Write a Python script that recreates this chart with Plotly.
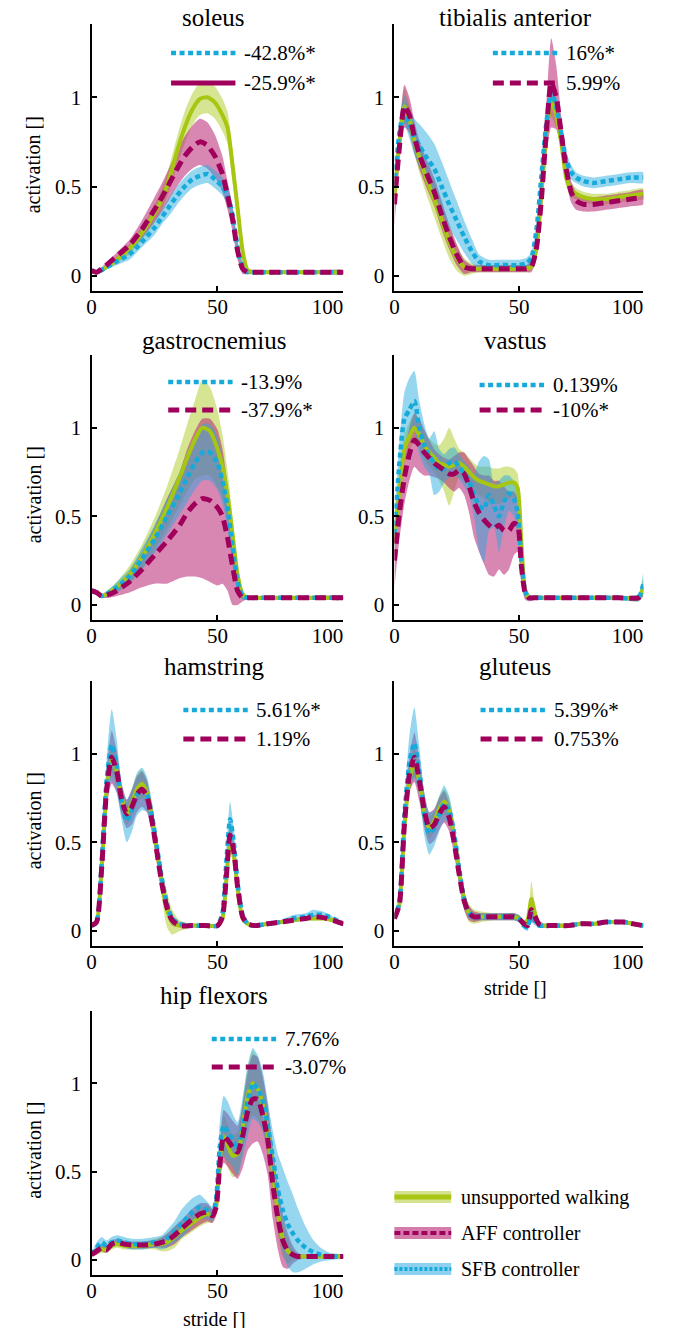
import plotly.graph_objects as go

W, H = 691, 1328

# ------------------------------------------------------------------ data
# soleus
soleus_x = [0, 2, 5, 10, 15, 20, 25, 28, 31, 34, 37, 40, 43, 46, 49, 52, 54, 56, 58, 60, 62, 65, 70, 80, 90, 100]
soleus_unsup = [.03, .02, .04, .09, .15, .24, .35, .43, .55, .70, .83, .93, .99, 1.0, .97, .90, .83, .62, .38, .14, .03, .02, .02, .02, .02, .02]
soleus_unsup_sd = [.01, .01, .01, .02, .03, .04, .05, .06, .07, .08, .09, .09, .09, .09, .09, .09, .09, .09, .08, .06, .02, .01, .01, .01, .01, .01]
soleus_aff = [.03, .02, .05, .11, .17, .26, .37, .44, .52, .60, .67, .72, .75, .73, .67, .57, .45, .32, .14, .04, .02, .02, .02, .02, .02, .02]
soleus_aff_sd = [.01, .01, .01, .02, .03, .05, .07, .08, .09, .10, .11, .12, .13, .13, .12, .10, .08, .07, .05, .03, .01, .01, .01, .01, .01, .01]
soleus_sfb = [.03, .02, .04, .08, .12, .19, .27, .33, .39, .45, .50, .54, .56, .57, .54, .50, .45, .34, .16, .05, .02, .02, .02, .02, .02, .02]
soleus_sfb_sd = [.01, .01, .01, .02, .03, .03, .04, .04, .05, .05, .05, .05, .05, .05, .05, .05, .05, .05, .04, .03, .01, .01, .01, .01, .01, .01]

# tibialis anterior
tib_x = [0, 2, 4, 6, 8, 10, 13, 16, 19, 22, 25, 28, 31, 34, 38, 42, 46, 50, 53, 55, 57, 59, 61, 63, 65, 67, 69, 71, 73, 76, 80, 85, 90, 95, 100]
tib_unsup = [.45, .75, .95, .88, .76, .66, .54, .43, .31, .19, .10, .05, .04, .04, .04, .04, .04, .04, .04, .05, .15, .45, .80, .97, .90, .75, .55, .48, .46, .44, .43, .43, .44, .45, .46]
tib_unsup_sd = [.06, .08, .10, .08, .08, .08, .09, .10, .10, .09, .07, .05, .03, .02, .02, .02, .02, .02, .02, .02, .05, .08, .08, .08, .07, .06, .05, .04, .03, .03, .03, .03, .03, .03, .03]
tib_aff = [.40, .72, .95, .90, .78, .68, .57, .47, .34, .22, .12, .05, .04, .04, .04, .04, .04, .04, .04, .05, .15, .42, .80, 1.08, 1.0, .80, .60, .47, .42, .40, .40, .41, .42, .43, .44]
tib_aff_sd = [.12, .10, .12, .10, .09, .08, .08, .08, .08, .07, .06, .04, .02, .02, .02, .02, .02, .02, .02, .03, .06, .10, .15, .25, .18, .10, .07, .06, .05, .04, .04, .04, .04, .04, .04]
tib_sfb = [.50, .80, .93, .85, .78, .73, .66, .60, .50, .40, .31, .22, .14, .08, .06, .06, .06, .06, .07, .10, .25, .55, .85, 1.03, .95, .80, .65, .58, .55, .53, .52, .53, .54, .55, .55]
tib_sfb_sd = [.05, .06, .08, .08, .10, .12, .14, .14, .14, .13, .11, .09, .07, .04, .03, .03, .03, .03, .03, .03, .05, .07, .07, .06, .05, .05, .04, .04, .03, .03, .03, .03, .03, .03, .03]

# gastrocnemius
gas_x = [0, 2, 4, 7, 10, 15, 20, 25, 30, 35, 38, 41, 44, 47, 50, 52, 54, 56, 58, 60, 62, 65, 70, 80, 90, 100]
gas_unsup = [.08, .07, .05, .07, .10, .17, .27, .40, .55, .72, .83, .93, 1.0, .98, .88, .78, .62, .40, .17, .06, .04, .04, .04, .04, .04, .04]
gas_unsup_sd = [.01, .01, .01, .02, .03, .05, .07, .09, .12, .16, .19, .22, .27, .25, .22, .18, .14, .10, .06, .03, .01, .01, .01, .01, .01, .01]
gas_aff = [.08, .07, .05, .06, .08, .13, .20, .28, .36, .45, .52, .57, .60, .59, .55, .50, .38, .22, .08, .04, .04, .04, .04, .04, .04, .04]
gas_aff_sd = [.01, .01, .01, .02, .03, .06, .10, .16, .24, .30, .36, .41, .45, .46, .44, .38, .30, .22, .08, .02, .01, .01, .01, .01, .01, .01]
gas_sfb = [.08, .07, .05, .07, .10, .16, .26, .37, .50, .63, .72, .80, .86, .86, .80, .70, .55, .33, .13, .05, .04, .04, .04, .04, .04, .04]
gas_sfb_sd = [.01, .01, .01, .02, .03, .04, .06, .08, .10, .12, .14, .15, .16, .16, .15, .13, .11, .08, .05, .02, .01, .01, .01, .01, .01, .01]

# vastus
vas_x = [0, 2, 4, 6, 8, 10, 12, 14, 16, 18, 20, 22, 24, 26, 28, 30, 32, 34, 36, 38, 40, 42, 44, 46, 48, 49.5, 51, 52.5, 54, 56, 60, 70, 80, 90, 98, 100]
vas_unsup = [.35, .65, .88, .95, 1.0, .96, .90, .86, .83, .80, .79, .78, .79, .80, .78, .75, .72, .70, .69, .68, .67, .67, .68, .69, .69, .66, .35, .08, .04, .04, .04, .04, .04, .04, .04, .10]
vas_unsup_sd = [.08, .08, .08, .08, .08, .08, .08, .08, .08, .10, .15, .22, .15, .08, .08, .08, .08, .08, .09, .10, .10, .10, .10, .09, .08, .08, .08, .03, .01, .01, .01, .01, .01, .01, .02, .05]
vas_aff = [.25, .52, .72, .85, .93, .90, .86, .83, .80, .78, .76, .74, .74, .76, .74, .67, .58, .52, .48, .45, .43, .45, .42, .42, .46, .45, .22, .07, .04, .04, .04, .04, .04, .04, .04, .07]
vas_aff_sd = [.15, .15, .15, .15, .15, .15, .13, .10, .08, .07, .07, .08, .10, .10, .12, .15, .20, .22, .25, .28, .27, .25, .25, .22, .18, .15, .10, .04, .02, .01, .01, .01, .01, .01, .01, .02]
vas_sfb = [.40, .80, 1.05, 1.10, 1.15, 1.0, .90, .84, .80, .76, .77, .80, .81, .78, .74, .70, .62, .56, .54, .62, .56, .50, .58, .63, .60, .52, .25, .08, .04, .04, .04, .04, .04, .04, .04, .12]
vas_sfb_sd = [.10, .12, .15, .18, .17, .15, .12, .10, .18, .12, .08, .08, .08, .07, .07, .08, .12, .25, .30, .20, .12, .20, .15, .10, .10, .12, .10, .04, .01, .01, .01, .01, .01, .01, .02, .06]

# hamstring
ham_x = [0, 2, 4, 6, 8, 10, 12, 14, 16, 18, 20, 22, 24, 26, 28, 30, 32, 35, 40, 45, 50, 52, 53.5, 55, 56.5, 58, 60, 62, 65, 70, 75, 80, 85, 88, 92, 96, 100]
ham_unsup = [.03, .05, .35, .80, .97, .90, .75, .66, .72, .80, .83, .78, .64, .45, .26, .12, .05, .03, .03, .03, .03, .07, .28, .50, .43, .24, .07, .04, .03, .04, .05, .06, .07, .07, .07, .06, .04]
ham_unsup_sd = [.01, .02, .04, .07, .08, .08, .06, .06, .07, .08, .08, .07, .07, .07, .08, .10, .07, .03, .01, .01, .01, .02, .05, .07, .05, .04, .02, .01, .01, .01, .01, .01, .01, .01, .01, .01, .01]
ham_aff = [.03, .05, .35, .80, .98, .90, .74, .66, .70, .77, .80, .76, .62, .44, .26, .13, .06, .03, .03, .03, .03, .08, .30, .54, .45, .25, .08, .04, .03, .04, .05, .06, .07, .08, .075, .06, .04]
ham_aff_sd = [.01, .02, .05, .10, .15, .12, .09, .08, .10, .10, .10, .09, .07, .06, .05, .04, .03, .01, .01, .01, .01, .02, .06, .08, .06, .04, .02, .01, .01, .01, .01, .01, .01, .01, .01, .01, .01]
ham_sfb = [.03, .05, .38, .85, 1.05, .93, .72, .62, .68, .77, .80, .77, .65, .47, .29, .15, .07, .04, .03, .03, .03, .10, .38, .63, .50, .27, .09, .04, .03, .04, .05, .07, .08, .09, .09, .07, .04]
ham_sfb_sd = [.01, .02, .06, .12, .20, .15, .10, .12, .12, .12, .12, .10, .08, .06, .05, .03, .02, .01, .01, .01, .01, .02, .08, .10, .08, .05, .02, .01, .01, .01, .01, .02, .02, .03, .02, .01, .01]

# gluteus
glu_x = [0, 2, 4, 6, 8, 10, 12, 14, 16, 18, 20, 22, 24, 26, 28, 30, 32, 35, 40, 45, 48, 50, 52, 53.5, 55, 56.5, 58, 60, 62, 65, 70, 75, 80, 85, 88, 92, 96, 100]
glu_unsup = [.07, .15, .58, .85, .95, .84, .66, .58, .62, .69, .73, .68, .53, .34, .18, .10, .08, .08, .08, .08, .08, .07, .04, .06, .18, .10, .04, .03, .03, .03, .03, .04, .04, .05, .05, .05, .04, .03]
glu_unsup_sd = [.01, .02, .05, .07, .08, .07, .06, .06, .06, .07, .07, .07, .07, .07, .06, .05, .04, .03, .02, .02, .02, .02, .02, .02, .10, .04, .02, .01, .01, .01, .01, .01, .01, .01, .01, .01, .01, .01]
glu_aff = [.07, .15, .60, .88, .98, .85, .68, .58, .60, .66, .70, .64, .50, .32, .17, .10, .08, .08, .08, .08, .08, .07, .04, .03, .12, .08, .04, .03, .03, .03, .03, .04, .04, .05, .05, .05, .04, .03]
glu_aff_sd = [.01, .02, .06, .10, .14, .12, .10, .09, .09, .09, .09, .08, .07, .06, .05, .04, .03, .02, .02, .02, .02, .02, .02, .02, .07, .04, .02, .01, .01, .01, .01, .01, .01, .01, .01, .01, .01, .01]
glu_sfb = [.07, .16, .65, .95, 1.06, .90, .66, .55, .58, .66, .72, .68, .55, .35, .18, .10, .08, .08, .08, .08, .08, .07, .03, .02, .10, .06, .03, .03, .03, .03, .03, .04, .04, .05, .05, .05, .04, .03]
glu_sfb_sd = [.01, .02, .08, .15, .20, .14, .12, .12, .10, .10, .10, .08, .07, .06, .04, .03, .02, .02, .02, .02, .02, .02, .02, .02, .05, .03, .01, .01, .01, .01, .01, .01, .01, .01, .01, .01, .01, .01]

# hip flexors
hip_x = [0, 2, 4, 6, 8, 10, 13, 16, 20, 25, 28, 30, 33, 36, 40, 43, 46, 48, 49.5, 51, 52.5, 54, 56, 58, 60, 62, 64, 66, 68, 70, 72, 74, 76, 78, 80, 82, 85, 88, 91, 95, 100]
hip_unsup = [.03, .05, .06, .06, .08, .09, .08, .08, .08, .09, .09, .10, .13, .17, .21, .24, .26, .25, .30, .58, .70, .65, .59, .60, .75, .93, 1.0, .97, .88, .72, .50, .27, .12, .05, .03, .02, .02, .02, .02, .02, .02]
hip_unsup_sd = [.01, .02, .02, .02, .02, .02, .02, .02, .02, .03, .04, .05, .06, .05, .05, .05, .05, .04, .05, .10, .12, .12, .12, .12, .14, .16, .18, .17, .15, .14, .14, .13, .10, .07, .03, .01, .01, .01, .01, .01, .01]
hip_aff = [.03, .05, .07, .06, .09, .10, .09, .085, .085, .09, .10, .11, .14, .18, .23, .26, .27, .25, .30, .55, .70, .68, .64, .61, .70, .84, .91, .91, .82, .68, .43, .24, .11, .05, .03, .02, .02, .02, .02, .02, .02]
hip_aff_sd = [.01, .02, .02, .02, .02, .02, .02, .02, .02, .02, .03, .04, .05, .05, .06, .06, .05, .04, .05, .10, .15, .15, .15, .15, .18, .22, .25, .24, .22, .20, .20, .18, .15, .10, .05, .02, .01, .01, .01, .01, .01]
hip_sfb = [.03, .07, .10, .08, .10, .11, .10, .09, .09, .10, .10, .12, .16, .21, .27, .30, .28, .26, .35, .65, .76, .73, .68, .63, .75, .90, 1.0, .97, .90, .76, .58, .40, .28, .20, .15, .11, .07, .045, .03, .02, .02]
hip_sfb_sd = [.01, .03, .03, .03, .03, .03, .03, .03, .03, .03, .04, .05, .06, .08, .08, .07, .05, .04, .06, .14, .17, .17, .15, .15, .17, .20, .20, .19, .17, .14, .15, .20, .24, .24, .22, .18, .12, .07, .04, .02, .01]

# panel titles and change labels (SFB, AFF)
titles = ["soleus", "tibialis anterior", "gastrocnemius", "vastus", "hamstring", "gluteus", "hip flexors"]
sfb_pct = ["-42.8%*", "16%*", "-13.9%", "0.139%", "5.61%*", "5.39%*", "7.76%"]
aff_pct = ["-25.9%*", "5.99%", "-37.9%*", "-10%*", "1.19%", "0.753%", "-3.07%"]

legend_names = ["unsupported walking", "AFF controller", "SFB controller"]

x_ticks = [0, 50, 100]
x_ticktext = ["0", "50", "100\u2007\u2007\u2007"]
y_ticks = [0, 0.5, 1]
y_ticktext = ["0", "0.5", "1"]

panels = [
    (soleus_x, soleus_unsup, soleus_unsup_sd, soleus_aff, soleus_aff_sd, soleus_sfb, soleus_sfb_sd),
    (tib_x, tib_unsup, tib_unsup_sd, tib_aff, tib_aff_sd, tib_sfb, tib_sfb_sd),
    (gas_x, gas_unsup, gas_unsup_sd, gas_aff, gas_aff_sd, gas_sfb, gas_sfb_sd),
    (vas_x, vas_unsup, vas_unsup_sd, vas_aff, vas_aff_sd, vas_sfb, vas_sfb_sd),
    (ham_x, ham_unsup, ham_unsup_sd, ham_aff, ham_aff_sd, ham_sfb, ham_sfb_sd),
    (glu_x, glu_unsup, glu_unsup_sd, glu_aff, glu_aff_sd, glu_sfb, glu_sfb_sd),
    (hip_x, hip_unsup, hip_unsup_sd, hip_aff, hip_aff_sd, hip_sfb, hip_sfb_sd),
]

# ------------------------------------------------------------------ style
FONT = "Liberation Serif"
C_UNS, C_AFF, C_SFB = "rgb(166,198,18)", "rgb(160,0,92)", "rgb(22,170,218)"
B_UNS, B_AFF, B_SFB = "rgba(172,204,36,0.5)", "rgba(184,36,116,0.55)", "rgba(36,170,222,0.48)"
DASH_AFF, DASH_SFB = "11px,6px", "5px,3.5px"

cols = [(83, 349), (403, 666)]
rows = [(16, 283), (347, 612), (673, 938), (1003, 1267)]
title_base = [24, 347, 673, 1002]
grid = [(0, 0), (0, 1), (1, 0), (1, 1), (2, 0), (2, 1), (3, 0)]
# key offsets: (segment left from axis left, y of first row from top, y of second row from top)
keys = [(84, 29, 59), (104, 29, 59), (81, 27, 55), (90, 30, 55), (97, 29, 58), (91, 29, 58), (127, 28, 56)]
SEG = 68
Y_RANGE = [-0.085, 1.41]


def fx(p):
    return p / W


def fy(p):
    return 1 - p / H


fig = go.Figure()
layout = dict(
    width=W, height=H, margin=dict(l=0, r=0, t=0, b=0),
    paper_bgcolor="white", plot_bgcolor="white", showlegend=False,
    font=dict(family=FONT, size=20, color="black"),
)
annotations, shapes = [], []

for i, (data, (r, c), key, title, sp, ap) in enumerate(zip(panels, grid, keys, titles, sfb_pct, aff_pct)):
    n = i + 1
    xs, uns, uns_sd, aff, aff_sd, sfb, sfb_sd = data
    xa, ya = f"x{n}", f"y{n}"
    l, rr = cols[c]
    t, b = rows[r]
    layout[f"xaxis{n}"] = dict(
        domain=[fx(l), fx(rr)], anchor=ya, range=[0, 100],
        showline=True, linecolor="black", linewidth=2, showgrid=False, zeroline=False,
        ticks="inside", ticklen=5, tickwidth=1.5, tickcolor="black",
        tickvals=x_ticks, ticktext=x_ticktext, ticklabelstandoff=-4,
        tickfont=dict(family=FONT, size=21, color="black"),
    )
    layout[f"yaxis{n}"] = dict(
        domain=[fy(b), fy(t)], anchor=xa, range=Y_RANGE,
        showline=True, linecolor="black", linewidth=2, showgrid=False, zeroline=False,
        ticks="inside", ticklen=5, tickwidth=1.5, tickcolor="black",
        tickvals=y_ticks, ticktext=y_ticktext, ticklabelstandoff=4,
        tickfont=dict(family=FONT, size=21, color="black"),
    )
    # bands
    for mean, sd, col in ((uns, uns_sd, B_UNS), (aff, aff_sd, B_AFF), (sfb, sfb_sd, B_SFB)):
        up = [m + s for m, s in zip(mean, sd)]
        lo = [m - s for m, s in zip(mean, sd)]
        fig.add_trace(go.Scatter(
            x=list(xs) + list(xs)[::-1], y=up + lo[::-1], xaxis=xa, yaxis=ya,
            fill="toself", fillcolor=col, mode="lines",
            line=dict(width=0, shape="spline", smoothing=0.6), hoverinfo="skip",
        ))
    # mean lines
    fig.add_trace(go.Scatter(x=xs, y=uns, xaxis=xa, yaxis=ya, mode="lines",
                             line=dict(color=C_UNS, width=4, shape="spline", smoothing=0.6)))
    fig.add_trace(go.Scatter(x=xs, y=sfb, xaxis=xa, yaxis=ya, mode="lines",
                             line=dict(color=C_SFB, width=4.5, dash=DASH_SFB, shape="spline", smoothing=0.6)))
    fig.add_trace(go.Scatter(x=xs, y=aff, xaxis=xa, yaxis=ya, mode="lines",
                             line=dict(color=C_AFF, width=5, dash=DASH_AFF, shape="spline", smoothing=0.6)))

    # title
    annotations.append(dict(
        text=title, x=fx((l + rr) / 2 - 4), y=fy(title_base[r] + 1), xref="paper", yref="paper",
        xanchor="center", yanchor="bottom", showarrow=False,
        font=dict(family=FONT, size=25, color="black"),
    ))
    # change keys
    sx, y1, y2 = key
    for yy, txt, colr, dash, wd in ((y1, sp, C_SFB, DASH_SFB, 4.5),
                                    (y2, ap, C_AFF, "solid" if i == 0 else DASH_AFF, 5)):
        shapes.append(dict(type="line", xref="paper", yref="paper",
                           x0=fx(l + sx), x1=fx(l + sx + SEG), y0=fy(t + yy), y1=fy(t + yy),
                           line=dict(color=colr, width=wd, dash=dash)))
        annotations.append(dict(
            text=txt, x=fx(l + sx + SEG + 7), y=fy(t + yy), xref="paper", yref="paper",
            xanchor="left", yanchor="middle", showarrow=False,
            font=dict(family=FONT, size=21, color="black"),
        ))
    # y label on left column
    if c == 0:
        annotations.append(dict(
            text="activation []", x=fx(22), y=fy((t + b) / 2 + 7), xref="paper", yref="paper",
            xanchor="center", yanchor="middle", textangle=-90, showarrow=False,
            font=dict(family=FONT, size=20, color="black"),
        ))

# x labels
for (cx, cy) in ((531, 980), (213, 1311)):
    annotations.append(dict(
        text="stride []", x=fx(cx), y=fy(cy), xref="paper", yref="paper",
        xanchor="center", yanchor="middle", showarrow=False,
        font=dict(family=FONT, size=20, color="black"),
    ))

# overall legend (bottom right)
leg_style = [
    ("rgb(214,227,142)", C_UNS, "solid", 5),
    ("rgb(212,124,172)", C_AFF, "6px,3px", 4),
    ("rgb(140,210,238)", C_SFB, "3px,2px", 4),
]
for k, (name, (band, line, dash, wd)) in enumerate(zip(legend_names, leg_style)):
    cy = 1189 + 36 * k
    shapes.append(dict(type="rect", xref="paper", yref="paper",
                       x0=fx(403), x1=fx(463), y0=fy(cy + 6), y1=fy(cy - 6),
                       fillcolor=band, line=dict(width=0)))
    shapes.append(dict(type="line", xref="paper", yref="paper",
                       x0=fx(403), x1=fx(463), y0=fy(cy), y1=fy(cy),
                       line=dict(color=line, width=wd, dash=dash)))
    annotations.append(dict(
        text=name, x=fx(471), y=fy(cy), xref="paper", yref="paper",
        xanchor="left", yanchor="middle", showarrow=False,
        font=dict(family=FONT, size=20, color="black"),
    ))

layout["annotations"] = annotations
layout["shapes"] = shapes
fig.update_layout(**layout)
fig.write_html("out.html")
